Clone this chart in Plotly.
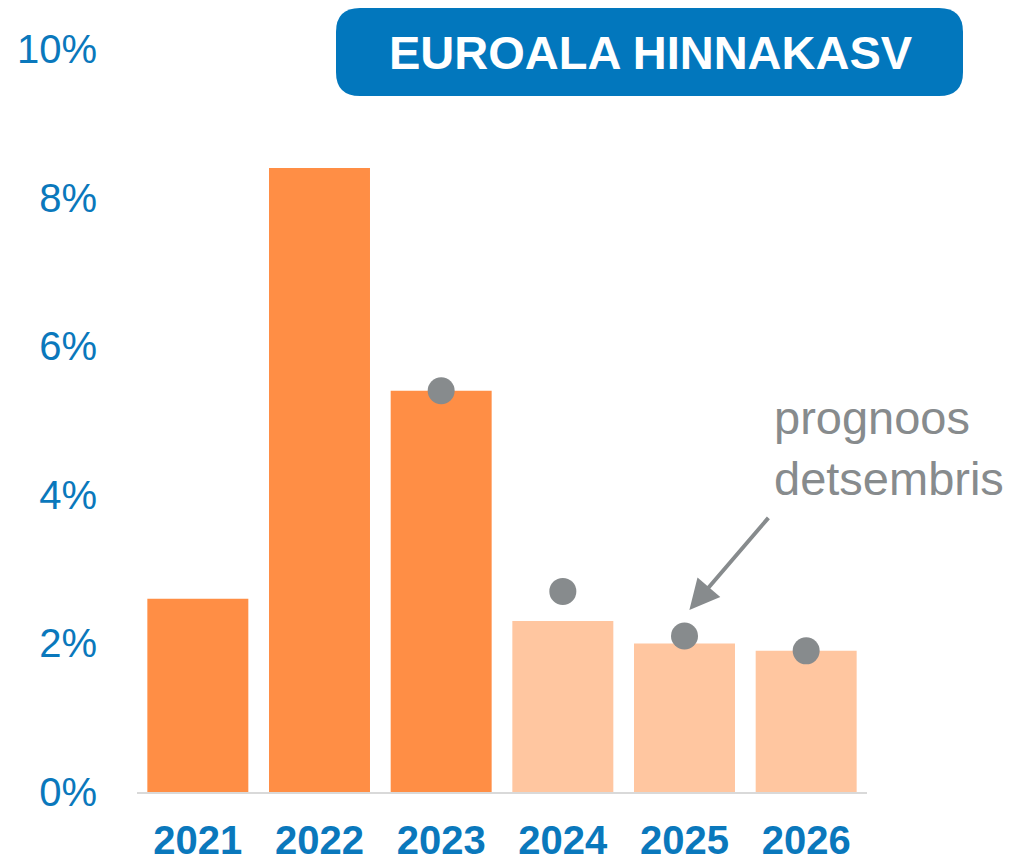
import plotly.graph_objects as go

# euro area inflation, % (bars) and December forecast (dots)
years = ['2021', '2022', '2023', '2024', '2025', '2026']
inflation = [2.6, 8.4, 5.4, 2.3, 2.0, 1.9]
forecast_dec = [None, None, 5.4, 2.7, 2.1, 1.9]
first_forecast_year = '2024'

y_ticks = [0, 2, 4, 6, 8, 10]
y_labels = ['0%', '2%', '4%', '6%', '8%', '10%']

BLUE = '#0A78BC'
ORANGE = '#FF8E45'
LIGHT_ORANGE = '#FFC6A0'
GREY = '#878B8D'
FONT = 'Liberation Sans, Arial, sans-serif'

# page body has an 8px margin, so the figure is a bit smaller than the window
OFF = 8
W, H = 1006, 854
L, R, T, B = 129, 147, 41, 70

bar_colors = [LIGHT_ORANGE if y >= first_forecast_year else ORANGE for y in years]

fig = go.Figure()
fig.add_trace(go.Bar(x=years, y=inflation, marker=dict(color=bar_colors, line_width=0),
                     hoverinfo='x+y'))
fig.add_trace(go.Scatter(x=years, y=forecast_dec, mode='markers',
                         marker=dict(color=GREY, size=27), hoverinfo='x+y'))


# screen pixel -> paper coords
def px(x):
    return (x - OFF - L) / (W - L - R)


def py(y):
    return (H - B - (y - OFF)) / (H - T - B)


# rounded box for the heading
x0, x1, y0, y1, r = 336, 963, 8, 96, 24
path = (f'M {px(x0 + r)},{py(y0)} L {px(x1 - r)},{py(y0)} '
        f'Q {px(x1)},{py(y0)} {px(x1)},{py(y0 + r)} L {px(x1)},{py(y1 - r)} '
        f'Q {px(x1)},{py(y1)} {px(x1 - r)},{py(y1)} L {px(x0 + r)},{py(y1)} '
        f'Q {px(x0)},{py(y1)} {px(x0)},{py(y1 - r)} L {px(x0)},{py(y0 + r)} '
        f'Q {px(x0)},{py(y0)} {px(x0 + r)},{py(y0)} Z')
fig.add_shape(type='path', path=path, xref='paper', yref='paper',
              fillcolor='#0277BD', line_width=0, layer='below')

fig.add_annotation(text='EUROALA HINNAKASV', xref='paper', yref='paper',
                   x=px(651), y=py(53), xanchor='center', yanchor='middle',
                   showarrow=False,
                   font=dict(family=FONT, size=47, color='white', weight='bold'))

fig.add_annotation(text='prognoos<br>detsembris', xref='paper', yref='paper',
                   x=px(772), y=py(448), xanchor='left', yanchor='middle',
                   align='left', showarrow=False,
                   font=dict(family=FONT, size=47, color=GREY))

fig.add_annotation(x=4.04, y=2.45, ax=4.70, ay=3.71, xref='x', yref='y',
                   axref='x', ayref='y', text='', showarrow=True,
                   arrowhead=2, arrowsize=1.5, arrowwidth=4, arrowcolor=GREY)

fig.update_layout(
    width=W, height=H,
    margin=dict(l=L, r=R, t=T, b=B, autoexpand=False),
    plot_bgcolor='white', paper_bgcolor='white',
    showlegend=False, bargap=0.17,
    font=dict(family=FONT),
    xaxis=dict(showgrid=False, showline=True, linecolor='#D9D9D9', linewidth=2,
               ticks='outside', ticklen=12, tickcolor='rgba(0,0,0,0)',
               tickfont=dict(size=40, color=BLUE, weight='bold'),
               range=[-0.5, 5.5], automargin=False),
    yaxis=dict(range=[0, 10], tickvals=y_ticks, ticktext=y_labels,
               showgrid=False, zeroline=False, showline=False,
               ticks='outside', ticklen=31, tickcolor='rgba(0,0,0,0)',
               tickfont=dict(size=40, color=BLUE), automargin=False),
)

fig.write_html('out.html')
